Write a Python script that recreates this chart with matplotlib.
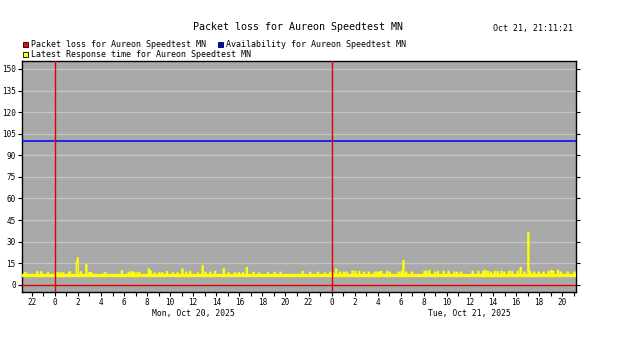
import numpy as np
import matplotlib
matplotlib.use('Agg')
import matplotlib.pyplot as plt
from matplotlib.patches import Rectangle

## data (hours relative to Mon Oct 20 00:00)
t_start = -2.85
t_end = 45.2
step_h = 5 / 60.0
base_response = 6.6
packet_loss = 0.0
availability = 100.0

spike_hours = [-2.61, -2.48, -1.48, -1.17, -0.61, 0.09, 0.26, 0.52, 0.74, 1.22, 1.30,
               1.91, 2.0, 2.26, 2.70, 3.0, 3.17, 4.35, 4.43, 5.80, 6.39, 6.61, 6.78,
               7.04, 7.30, 8.13, 8.35, 8.61, 9.04, 9.30, 9.74, 10.22, 10.61, 11.04,
               11.39, 11.74, 12.43, 12.78, 13.04, 13.48, 13.91, 14.61, 15.09, 15.65,
               16.0, 16.30, 16.61, 17.22, 17.74, 18.48, 19.04, 19.57, 21.48, 22.17,
               22.78, 23.39, 23.91,
               24.17, 24.43, 24.70, 25.04, 25.30, 25.83, 26.09, 26.39, 26.78, 27.22,
               27.74, 27.96, 28.17, 28.35, 28.78, 29.04, 29.83, 30.09, 30.26, 30.52,
               30.96, 32.09, 32.26, 32.52, 32.96, 33.22, 33.74, 34.13, 34.61, 34.87,
               35.22, 36.26, 36.70, 37.13, 37.30, 37.57, 37.83, 38.17, 38.43, 38.70,
               38.96, 39.39, 39.65, 40.17, 40.43, 40.70, 41.04, 41.22, 41.57, 42.0,
               42.43, 42.78, 43.04, 43.22, 43.65, 43.91, 44.52, 45.04]
spike_values = [8.3, 8.3, 9.0, 9.0, 8.3, 8.3, 8.3, 8.3, 8.3, 8.5, 9.0,
                16.0, 18.7, 9.0, 13.9, 8.3, 8.3, 8.3, 8.3, 9.7, 8.7, 9.0, 8.7,
                8.3, 8.7, 11.0, 9.5, 8.3, 8.3, 8.3, 9.2, 8.3, 8.3, 11.0,
                8.7, 9.2, 8.3, 13.4, 8.7, 8.7, 9.2, 11.0, 8.3, 8.3,
                8.3, 8.3, 12.0, 8.7, 8.3, 8.3, 8.7, 8.7, 9.2, 8.7,
                8.7, 8.3, 8.7,
                8.1, 10.9, 8.8, 8.8, 8.8, 9.6, 9.3, 9.3, 8.8, 8.8,
                8.8, 8.8, 8.8, 9.3, 9.3, 8.8, 8.8, 9.3, 16.9, 8.8,
                8.8, 9.3, 9.3, 9.9, 8.8, 9.3, 9.3, 9.3, 8.8, 8.8,
                8.8, 9.3, 9.3, 9.3, 10.0, 9.3, 8.8, 9.3, 9.3, 9.3,
                8.8, 9.3, 9.3, 9.3, 12.0, 8.8, 36.3, 9.3, 8.8, 8.8,
                8.8, 9.3, 10.0, 9.3, 10.0, 8.8, 8.8, 8.8]

midnights = [0, 24]
hour_ticks = list(range(-2, 46))
day_labels = ['Mon, Oct 20, 2025', 'Tue, Oct 21, 2025']
day_centers = [12, 36]
y_ticks = list(range(0, 151, 15))

t = np.arange(t_start, t_end, step_h)
resp = np.full(len(t), base_response)
for h, v in zip(spike_hours, spike_values):
    i = int(np.argmin(np.abs(t - h)))
    resp[i] = max(resp[i], v)

font = 'DejaVu Sans Mono'
plt.rcParams['font.family'] = font

fig = plt.figure(figsize=(6.26, 3.53), dpi=100)
W, H = 626.0, 353.0
ax = fig.add_axes([22 / W, 1 - 292 / H, (576 - 22) / W, (292 - 61) / H])
ax.set_facecolor('#a9a9a9')

for y in y_ticks[1:]:
    ax.axhline(y, color='#c6c6c6', lw=0.9, zorder=1)

# thick baseline band + thin spikes
ax.plot(t, np.minimum(resp, base_response), color='#ffff00', lw=2.4, zorder=3)
ax.plot(t, resp, color='#ffff00', lw=1.0, drawstyle='steps-mid', zorder=3)
ax.axhline(packet_loss, color='#e00000', lw=1.0, zorder=4)
ax.axhline(availability, color='#0000ff', lw=1.1, zorder=4)
for m in midnights:
    ax.axvline(m, color='#e00000', lw=1.0, zorder=5)

ax.set_xlim(t_start, t_end)
ax.set_ylim(-5, 155.5)
ax.set_xticks(hour_ticks)
ax.set_xticklabels([str(h % 24) if h % 2 == 0 else '' for h in hour_ticks])
ax.set_yticks(y_ticks)
ax.set_yticklabels([str(y) for y in y_ticks])
ax.tick_params(axis='both', direction='out', length=3, width=0.8, labelsize=5.5,
               pad=1.5, colors='black')
ax.tick_params(axis='y', right=True)
for s in ax.spines.values():
    s.set_color('black')
    s.set_linewidth(1.0)

for c, lab in zip(day_centers, day_labels):
    ax.text(c, -0.075, lab, transform=ax.get_xaxis_transform(), ha='center',
            va='top', fontsize=5.8)

fig.text(298 / W, 1 - 27 / H, 'Packet loss for Aureon Speedtest MN', ha='center',
         va='center', fontsize=7.2)
fig.text(573 / W, 1 - 29 / H, 'Oct 21, 21:11:21', ha='right', va='center', fontsize=6)

legend = [(23, 44.5, '#ff0000', 'Packet loss for Aureon Speedtest MN'),
          (218, 44.5, '#0000ff', 'Availability for Aureon Speedtest MN'),
          (23, 54.5, '#ffff00', 'Latest Response time for Aureon Speedtest MN')]
for x, y, col, lab in legend:
    fig.patches.append(Rectangle((x / W, 1 - (y + 2.5) / H), 5 / W, 5 / H,
                                 transform=fig.transFigure, facecolor=col,
                                 edgecolor='black', lw=0.6))
    fig.text((x + 8) / W, 1 - y / H, lab, ha='left', va='center', fontsize=6)

fig.savefig('out.png', dpi=100, facecolor='white')
